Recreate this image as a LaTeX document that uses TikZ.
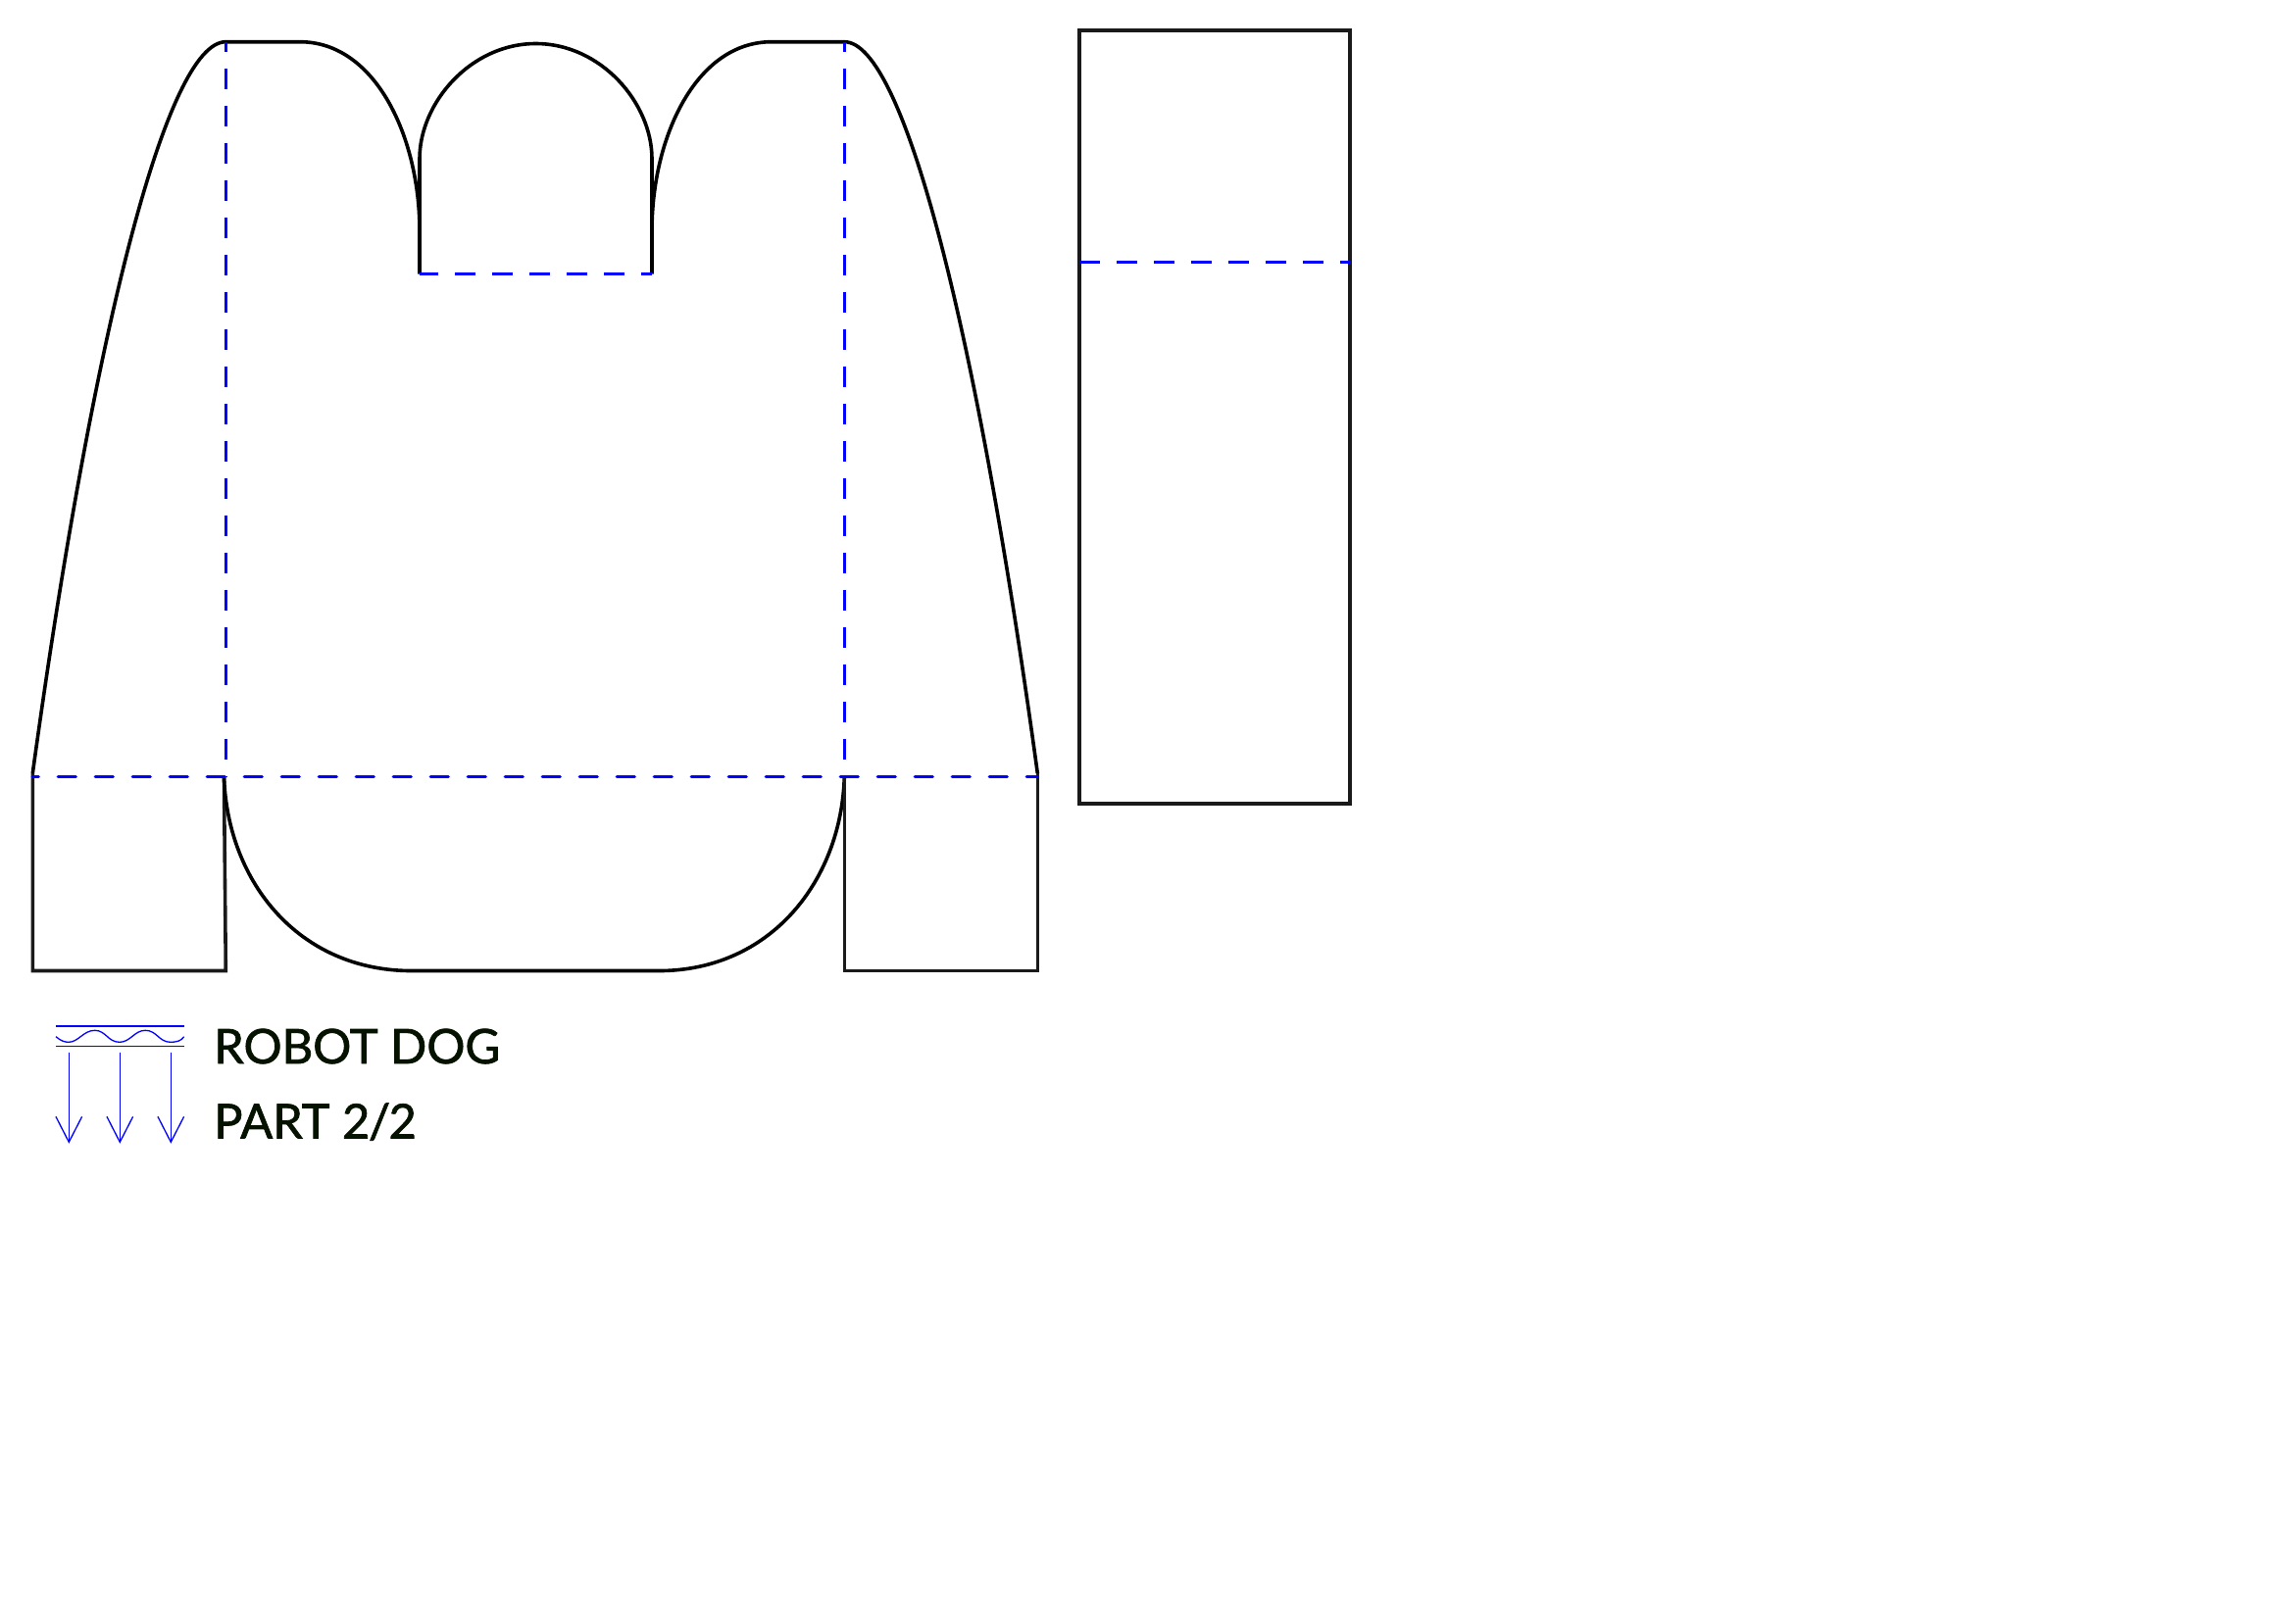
\documentclass[tikz,border=0pt]{standalone}
\usepackage{fontspec}
\setmainfont{Lato}
\newfontfamily\titlefont[FakeBold=1.5]{Lato}
\usepackage{tikz}
\definecolor{cutgray}{HTML}{1A1A1A}
\definecolor{titlegreen}{HTML}{061200}
\tikzset{
	cutline/.style={line width=0.036cm, color=black, line join=miter},
	boxline/.style={line width=0.036cm, color=cutgray},
	foldline/.style={line width=0.034cm, color=blue, dash pattern=on 0.18cm off 0.2cm, line cap=round},
	creaseline/.style={line width=0.032cm, color=blue, dash pattern=on 0.213cm off 0.167cm},
	thinblue/.style={line width=0.013cm, color=blue},
	title/.style={anchor=base west, inner sep=0pt, color=titlegreen, font=\titlefont\fontsize{13.9}{16}\selectfont}
}

\begin{document}
\begin{tikzpicture}[y=-1cm]
		%%%%% START %%%%%
		\useasboundingbox (0, 0) rectangle (23.42, 16.56);

		% sleeves and body top
		\draw[cutline] (0.333, 7.89) .. controls (0.95, 3.4) and (1.70, 0.427) .. (2.303, 0.427)
			-- (3.06, 0.427) .. controls (3.83, 0.427) and (4.28, 1.40) .. (4.28, 2.35) -- (4.28, 2.793);
		\draw[cutline] (6.65, 2.793) -- (6.65, 2.35) .. controls (6.65, 1.40) and (7.10, 0.427) .. (7.87, 0.427)
			-- (8.613, 0.427) .. controls (9.22, 0.427) and (9.97, 3.4) .. (10.583, 7.89);

		% arch between
		\draw[cutline] (4.28, 2.793) -- (4.28, 1.62) .. controls (4.28, 1.05) and (4.80, 0.445) .. (5.465, 0.445)
			.. controls (6.13, 0.445) and (6.65, 1.05) .. (6.65, 1.62) -- (6.65, 2.793);

		% bottom flaps
		\draw[boxline] (0.333, 7.89) -- (0.333, 9.905) -- (2.303, 9.905) -- (2.285, 7.925);
		\draw[cutline] (2.285, 7.925) .. controls (2.32, 9.00) and (3.05, 9.905) .. (4.20, 9.905)
			-- (6.72, 9.905) .. controls (7.85, 9.905) and (8.58, 9.00) .. (8.613, 7.925);
		\draw[boxline] (8.613, 7.925) -- (8.613, 9.905) -- (10.583, 9.905) -- (10.583, 7.89);

		% right strip
		\draw[boxline] (11.01, 0.307) rectangle (13.77, 8.2);

		% folds
		\draw[foldline, dash phase=0.12cm] (0.333, 7.925) -- (10.583, 7.925);
		\draw[creaseline, dash phase=0.107cm] (2.303, 0.427) -- (2.303, 7.925);
		\draw[creaseline, dash phase=0.107cm] (8.613, 0.427) -- (8.613, 7.925);
		\draw[creaseline, dash phase=0.02cm] (4.28, 2.793) -- (6.65, 2.793);
		\draw[creaseline] (11.01, 2.673) -- (13.77, 2.673);

		% water mark
		\draw[thinblue] (0.57, 10.47) -- (1.877, 10.47);
		\draw[thinblue] (0.57, 10.673) -- (1.877, 10.673);
		\draw[thinblue] (0.57, 10.577) .. controls (0.62, 10.62) and (0.66, 10.633) .. (0.70, 10.633)
			.. controls (0.80, 10.633) and (0.85, 10.513) .. (0.967, 10.513)
			.. controls (1.08, 10.513) and (1.10, 10.633) .. (1.22, 10.633)
			.. controls (1.33, 10.633) and (1.37, 10.513) .. (1.483, 10.513)
			.. controls (1.60, 10.513) and (1.62, 10.633) .. (1.74, 10.633)
			.. controls (1.80, 10.633) and (1.85, 10.62) .. (1.877, 10.577);
		\foreach \x in {0.703, 1.223, 1.743} {
			\draw[thinblue] (\x, 10.737) -- (\x, 11.653);
			\draw[thinblue] (\x-0.133, 11.393) -- (\x, 11.653) -- (\x+0.133, 11.393);
		}

		\node[title] (dogname) at (2.175, 10.85) {ROBOT DOG};
		\node[title] (partname) at (2.175, 11.615) {PART 2\kern-0.03em/\kern-0.03em 2};
		%%%%% END %%%%%
	\end{tikzpicture}
\end{document}
